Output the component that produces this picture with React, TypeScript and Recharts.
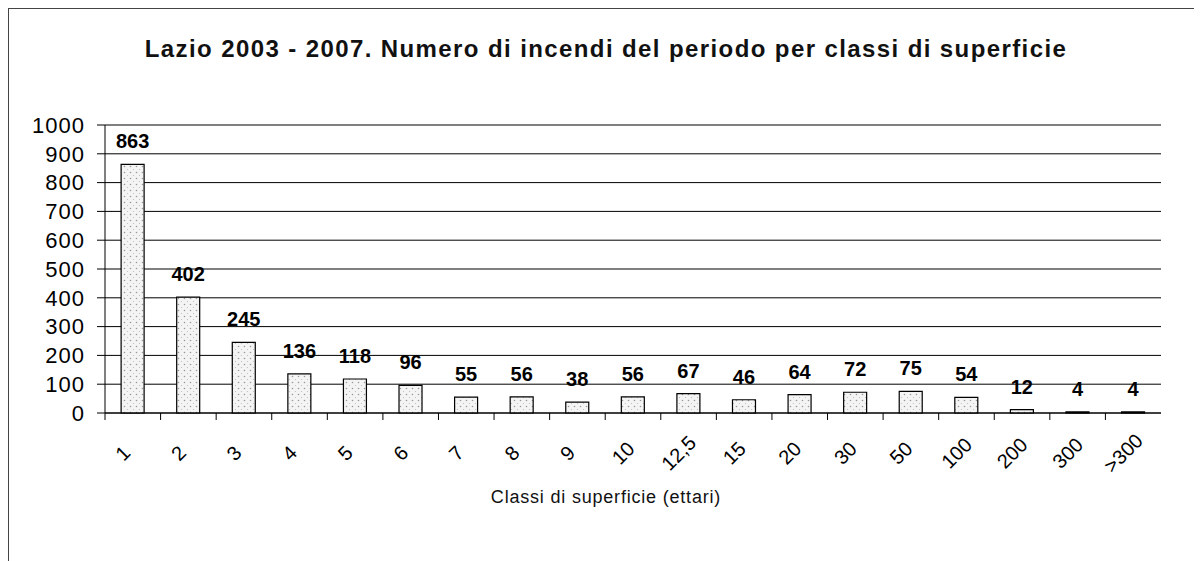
import React from 'react';
import { BarChart, Bar, XAxis, YAxis, CartesianGrid, LabelList } from 'recharts';

const classi = ['1', '2', '3', '4', '5', '6', '7', '8', '9', '10', '12,5', '15', '20', '30', '50', '100', '200', '300', '>300'];
const incendi = [863, 402, 245, 136, 118, 96, 55, 56, 38, 56, 67, 46, 64, 72, 75, 54, 12, 4, 4];
const yTicks = [0, 100, 200, 300, 400, 500, 600, 700, 800, 900, 1000];

const data = classi.map((c, i) => ({ classe: c, n: incendi[i] }));

const font = 'Arial, "Liberation Sans", sans-serif';

// rotated label + tick mark on the category boundary
const XTick = (props: any) => {
	const { x, y, payload } = props;
	const half = payload.offset || 0;
	const tx = x - 5;
	const ty = y + 37;
	return (
		<g>
			<line x1={x - half} y1={y - 8} x2={x - half} y2={y - 1} stroke='#000' />
			<text x={tx} y={ty} textAnchor='middle' fontSize={20} fontFamily={font} fill='#000' transform={`rotate(-45, ${tx}, ${ty})`}>
				{payload.value}
			</text>
		</g>
	);
};

export default function App() {
	return (
		<div style={{ position: 'relative', width: 1194, height: 553, borderLeft: '1px solid #444', borderTop: '1px solid #444', boxSizing: 'border-box', background: '#fff' }}>
			<div style={{ position: 'absolute', top: 26, left: 0, width: 1194, textAlign: 'center', fontFamily: font, fontSize: 24, fontWeight: 'bold', letterSpacing: 1.4, color: '#111' }}>
				Lazio 2003 - 2007. Numero di incendi del periodo per classi di superficie
			</div>
			<BarChart width={1194} height={553} data={data} margin={{ top: 116, right: 42, bottom: 69, left: 16 }} barCategoryGap='29%'>
				<defs>
					<pattern id='stipple' width='6' height='6' patternUnits='userSpaceOnUse'>
						<rect width='6' height='6' fill='#f4f4f4' />
						<circle cx='1.5' cy='1.5' r='0.8' fill='#999' />
						<circle cx='4.5' cy='4.5' r='0.6' fill='#bbb' />
					</pattern>
				</defs>
				<CartesianGrid vertical={false} stroke='#000' strokeWidth={1} />
				<XAxis dataKey='classe' interval={0} axisLine={{ stroke: '#000' }} tickLine={false} tick={<XTick />} height={80} />
				<YAxis domain={[0, 1000]} ticks={yTicks} interval={0} width={80} axisLine={{ stroke: '#000' }} tickLine={{ stroke: '#000' }} tickSize={8} tickMargin={12} tick={{ fill: '#000', fontSize: 22, fontFamily: font, letterSpacing: 1 }} />
				<Bar dataKey='n' fill='url(#stipple)' stroke='#000' strokeWidth={1.2} isAnimationActive={false}>
					<LabelList dataKey='n' position='top' offset={16} style={{ fill: '#000', fontSize: 20, fontWeight: 'bold', fontFamily: font }} />
				</Bar>
			</BarChart>
			<div style={{ position: 'absolute', top: 478, left: 0, width: 1194, textAlign: 'center', fontFamily: font, fontSize: 18, letterSpacing: 0.8, color: '#111' }}>
				Classi di superficie (ettari)
			</div>
		</div>
	);
}
